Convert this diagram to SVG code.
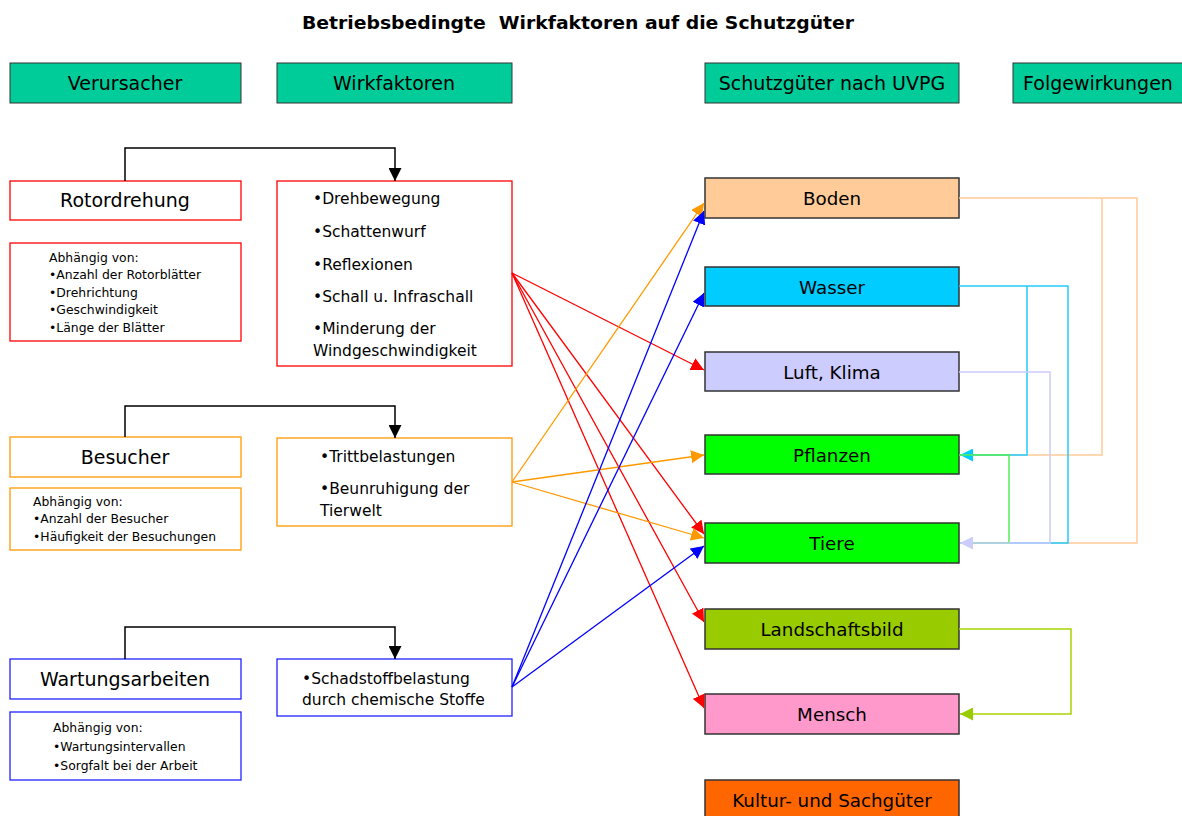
<svg xmlns="http://www.w3.org/2000/svg" width="1182" height="816" viewBox="0 0 1182 816">
<style>
text{font-family:"DejaVu Sans","Verdana",sans-serif;fill:#000}
.t{font-size:18px;font-weight:bold;white-space:pre}
.h{font-size:19px;text-anchor:middle}
.v{font-size:19px;text-anchor:middle}
.m{font-size:18.3px;text-anchor:middle}
.l{font-size:15.5px}
.s{font-size:12.4px}
.hd{fill:#00CC99;stroke:#333;stroke-width:1}
.sg{stroke:#333;stroke-width:1.5}
.r{fill:#fff;stroke:#FF0000;stroke-width:1.3}
.o{fill:#fff;stroke:#FF9900;stroke-width:1.3}
.b{fill:#fff;stroke:#2222FF;stroke-width:1.3}
.k{fill:none;stroke:#000;stroke-width:1.5}
.cr{fill:none;stroke:#FF0000;stroke-width:1.3}
.co{fill:none;stroke:#FF9900;stroke-width:1.3}
.cb{fill:none;stroke:#0000FF;stroke-width:1.3}
.pe{fill:none;stroke:#FFCC99;stroke-width:1.5}
.cy{fill:none;stroke:#22CCFF;stroke-width:1.5}
.lv{fill:none;stroke:#CCCCFF;stroke-width:1.5}
.gr{fill:none;stroke:#55EE55;stroke-width:1.5}
.yg{fill:none;stroke:#A6D400;stroke-width:1.5}
</style>
<defs>
<marker id="aK" markerUnits="userSpaceOnUse" markerWidth="13" markerHeight="13" refX="13" refY="6.5" orient="auto"><path d="M0,0 L13,6.5 L0,13 z" fill="#000"/></marker>
<marker id="aR" markerUnits="userSpaceOnUse" markerWidth="13" markerHeight="13" refX="13" refY="6.5" orient="auto"><path d="M0,0 L13,6.5 L0,13 z" fill="#FF0000"/></marker>
<marker id="aO" markerUnits="userSpaceOnUse" markerWidth="13" markerHeight="13" refX="13" refY="6.5" orient="auto"><path d="M0,0 L13,6.5 L0,13 z" fill="#FF9900"/></marker>
<marker id="aB" markerUnits="userSpaceOnUse" markerWidth="13" markerHeight="13" refX="13" refY="6.5" orient="auto"><path d="M0,0 L13,6.5 L0,13 z" fill="#0000FF"/></marker>
<marker id="aC" markerUnits="userSpaceOnUse" markerWidth="13" markerHeight="13" refX="13" refY="6.5" orient="auto"><path d="M0,0 L13,6.5 L0,13 z" fill="#00CCFF"/></marker>
<marker id="aL" markerUnits="userSpaceOnUse" markerWidth="13" markerHeight="13" refX="13" refY="6.5" orient="auto"><path d="M0,0 L13,6.5 L0,13 z" fill="#CCCCFF"/></marker>
<marker id="aY" markerUnits="userSpaceOnUse" markerWidth="13" markerHeight="13" refX="13" refY="6.5" orient="auto"><path d="M0,0 L13,6.5 L0,13 z" fill="#99CC00"/></marker>
</defs>
<rect width="1182" height="816" fill="#fff"/>
<text class="t" x="302" y="29" textLength="552" lengthAdjust="spacingAndGlyphs" xml:space="preserve">Betriebsbedingte  Wirkfaktoren auf die Schutzgüter</text>

<g id="header-verursacher"><rect class="hd" x="10" y="63" width="231" height="40"/><text class="h" x="125" y="90">Verursacher</text></g>
<g id="header-wirkfaktoren"><rect class="hd" x="277" y="63" width="235" height="40"/><text class="h" x="394" y="90">Wirkfaktoren</text></g>
<g id="header-schutzgueter"><rect class="hd" x="705" y="63" width="254" height="40"/><text class="h" x="832" y="90">Schutzgüter nach UVPG</text></g>
<g id="header-folgewirkungen"><rect class="hd" x="1013" y="63" width="175" height="40"/><text class="h" x="1098" y="90">Folgewirkungen</text></g>

<g id="rotordrehung"><rect class="r" x="10" y="181" width="231" height="39"/><text class="v" x="125" y="207">Rotordrehung</text></g>
<g id="rotor-abhaengig"><rect class="r" x="10" y="243" width="231" height="98"/>
<text class="s" x="49" y="262">Abhängig von:</text>
<text class="s" x="49" y="279">•Anzahl der Rotorblätter</text>
<text class="s" x="49" y="297">•Drehrichtung</text>
<text class="s" x="49" y="314">•Geschwindigkeit</text>
<text class="s" x="49" y="332">•Länge der Blätter</text></g>
<g id="rotor-wirk"><rect class="r" x="277" y="181" width="235" height="185"/>
<text class="l" x="313" y="204">•Drehbewegung</text>
<text class="l" x="313" y="237">•Schattenwurf</text>
<text class="l" x="313" y="270">•Reflexionen</text>
<text class="l" x="313" y="302">•Schall u. Infraschall</text>
<text class="l" x="313" y="334">•Minderung der</text>
<text class="l" x="313" y="356">Windgeschwindigkeit</text></g>

<g id="besucher"><rect class="o" x="10" y="437" width="231" height="40"/><text class="v" x="125" y="464">Besucher</text></g>
<g id="besucher-abhaengig"><rect class="o" x="10" y="488" width="231" height="62"/>
<text class="s" x="33" y="506">Abhängig von:</text>
<text class="s" x="33" y="523">•Anzahl der Besucher</text>
<text class="s" x="33" y="541">•Häufigkeit der Besuchungen</text></g>
<g id="besucher-wirk"><rect class="o" x="277" y="438" width="235" height="88"/>
<text class="l" x="320" y="462">•Trittbelastungen</text>
<text class="l" x="320" y="494">•Beunruhigung der</text>
<text class="l" x="320" y="516">Tierwelt</text></g>

<g id="wartung"><rect class="b" x="10" y="659" width="231" height="40"/><text class="v" x="125" y="686">Wartungsarbeiten</text></g>
<g id="wartung-abhaengig"><rect class="b" x="10" y="712" width="231" height="68"/>
<text class="s" x="53" y="732">Abhängig von:</text>
<text class="s" x="53" y="751">•Wartungsintervallen</text>
<text class="s" x="53" y="770">•Sorgfalt bei der Arbeit</text></g>
<g id="wartung-wirk"><rect class="b" x="277" y="659" width="235" height="57"/>
<text class="l" x="302" y="684">•Schadstoffbelastung</text>
<text class="l" x="302" y="705">durch chemische Stoffe</text></g>

<g id="boden"><rect class="sg" fill="#FFCC99" x="705" y="178" width="254" height="40"/><text class="m" x="832" y="204.5">Boden</text></g>
<g id="wasser"><rect class="sg" fill="#00CCFF" x="705" y="267" width="254" height="39"/><text class="m" x="832" y="293.5">Wasser</text></g>
<g id="luft"><rect class="sg" fill="#CCCCFF" x="705" y="352" width="254" height="39"/><text class="m" x="832" y="378.5">Luft, Klima</text></g>
<g id="pflanzen"><rect class="sg" fill="#00FF00" x="705" y="435" width="254" height="39"/><text class="m" x="832" y="461.5">Pflanzen</text></g>
<g id="tiere"><rect class="sg" fill="#00FF00" x="705" y="523" width="254" height="40"/><text class="m" x="832" y="549.5">Tiere</text></g>
<g id="landschaftsbild"><rect class="sg" fill="#99CC00" x="705" y="609" width="254" height="40"/><text class="m" x="832" y="635.5">Landschaftsbild</text></g>
<g id="mensch"><rect class="sg" fill="#FF99CC" x="705" y="694" width="254" height="40"/><text class="m" x="832" y="720.5">Mensch</text></g>
<g id="kultur"><rect class="sg" fill="#FF6600" x="705" y="780" width="254" height="42"/><text class="m" x="832" y="806.5">Kultur- und Sachgüter</text></g>

<g id="connectors">
<path class="k" d="M125,181 V148 H395 V181" marker-end="url(#aK)"/>
<path class="k" d="M125,437 V406 H395 V438" marker-end="url(#aK)"/>
<path class="k" d="M125,659 V627 H395 V659" marker-end="url(#aK)"/>

<path class="cr" d="M512,273 L704,370" marker-end="url(#aR)"/>
<path class="cr" d="M512,273 L704,534" marker-end="url(#aR)"/>
<path class="cr" d="M512,273 L704,622" marker-end="url(#aR)"/>
<path class="cr" d="M512,273 L704,708" marker-end="url(#aR)"/>

<path class="co" d="M512,482 L704,203" marker-end="url(#aO)"/>
<path class="co" d="M512,482 L704,455" marker-end="url(#aO)"/>
<path class="co" d="M512,482 L704,538" marker-end="url(#aO)"/>

<path class="cb" d="M512,687 L704,211" marker-end="url(#aB)"/>
<path class="cb" d="M512,687 L704,293" marker-end="url(#aB)"/>
<path class="cb" d="M512,687 L704,546" marker-end="url(#aB)"/>

<path class="pe" d="M959,198 H1137 V543 H960"/>
<path class="pe" d="M1102,198 V455 H960"/>
<path class="cy" d="M959,286 H1068 V543 H960"/>
<path class="cy" d="M1027,286 V455 H960" marker-end="url(#aC)"/>
<path class="gr" d="M959,455 H1009 V543 H960"/>
<path class="lv" d="M959,372 H1050 V543 H960" marker-end="url(#aL)"/>
<path class="yg" d="M959,629 H1071 V714 H960" marker-end="url(#aY)"/>
</g>
</svg>
